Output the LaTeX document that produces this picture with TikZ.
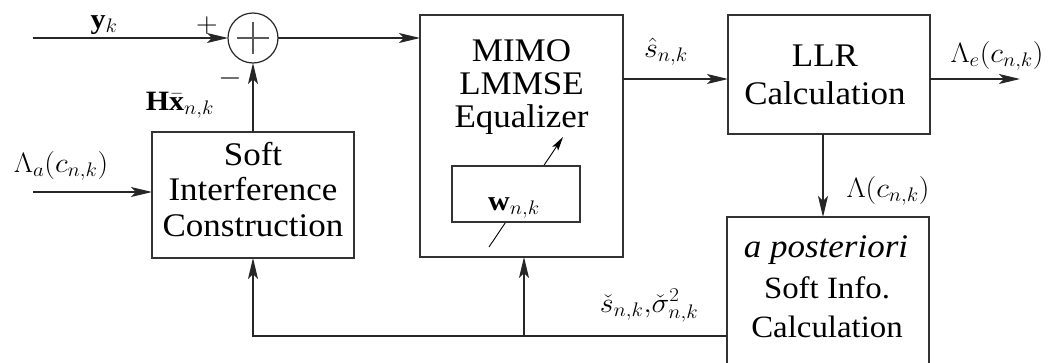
\RequirePackage{fix-cm}
\documentclass[tikz,border=0pt]{standalone}
\usepackage{fontspec}
\setmainfont{Liberation Serif}
\usepackage{graphicx}
\usetikzlibrary{arrows.meta}
\newcommand{\ml}[1]{\scalebox{1.07}[1]{$#1$}}
\newcommand{\bt}[1]{\scalebox{1.06}[1]{#1}}
\begin{document}
\begin{tikzpicture}[x=1pt,y=-1pt,
  box/.style={draw=black!80, line width=1.2pt, rectangle, inner sep=0pt, outer sep=0pt, fill=white},
  arr/.style={draw=black!85, line width=1.2pt, -{Stealth[length=21pt,width=10pt,inset=5pt]}},
  sarr/.style={draw=black, line width=0.9pt, -{Stealth[length=14pt,width=7pt,inset=3pt]}},
  btxt/.style={font=\fontsize{33}{33}\selectfont, anchor=base, inner sep=0pt},
  ptxt/.style={font=\fontsize{31}{31}\selectfont, anchor=base, inner sep=0pt},
  mtxt/.style={font=\fontsize{28}{32}\selectfont, anchor=base, inner sep=0pt}]
\useasboundingbox (0,0) rectangle (1052,362);
\clip (0,0) rectangle (1052,362);

% small adjustable arrow (drawn first, inner box hides its middle)
\coordinate (sa1) at (489,247);
\coordinate (sa2) at (563,137);
\draw[sarr] (sa1) -- (sa2);

% blocks
\node[box, minimum width=203pt, minimum height=242pt, fill=none] (mimo) at (521.5,136) {};
\node[box, minimum width=128pt, minimum height=56pt] (inner) at (516,194) {};
\node[box, minimum width=202pt, minimum height=119pt] (llr) at (829,74.5) {};
\node[box, minimum width=202pt, minimum height=126pt] (sic) at (253,195) {};
\node[box, minimum width=202pt, minimum height=163pt] (post) at (828,298.5) {};
\node[draw=black!85, line width=1.2pt, circle, minimum size=50pt, inner sep=0pt, outer sep=0pt] (sum) at (253,38) {};
\draw[black!65, line width=1.6pt] (sum.center) ++(-16,0) -- ++(32,0);
\draw[black!65, line width=1.6pt] (sum.center) ++(0,-16) -- ++(0,32);

% block texts
\node[btxt] (tm1) at (521.5,61) {\bt{MIMO}};
\node[btxt] (tm2) at (521.5,94) {\bt{LMMSE}};
\node[btxt] (tm3) at (521.5,127) {\bt{Equalizer}};
\node[btxt] (tl1) at (825,66) {\bt{LLR}};
\node[btxt] (tl2) at (825,104) {\bt{Calculation}};
\node[btxt] (ts1) at (253,165) {\bt{Soft}};
\node[btxt] (ts2) at (253,200) {\bt{Interference}};
\node[btxt] (ts3) at (253,236) {\bt{Construction}};
\node[btxt] (tp1) at (826,257) {\bt{\itshape a posteriori}};
\node[ptxt] (tp2) at (827,298) {\bt{Soft Info.}};
\node[ptxt] (tp3) at (827,337) {\bt{Calculation}};

% connectors
\coordinate (yin) at (33,38);
\draw[arr] (yin) -- (sum.west);
\draw[arr] (sum.east) -- (sum.east -| mimo.west);
\draw[arr] (sic.north) -- (sum.south);
\coordinate (ain) at (33,192);
\draw[arr] (ain) -- (ain -| sic.west);
\coordinate (sy) at (0,79);
\draw[arr] (mimo.east |- sy) -- (llr.west |- sy);
\coordinate (lout) at (1020,79);
\draw[arr] (llr.east |- lout) -- (lout);
\coordinate (dx) at (823,0);
\draw[arr] (llr.south -| dx) -- (post.north -| dx);
\coordinate (fby) at (0,336);
\coordinate (brx) at (524,0);
\draw[arr] (post.west |- fby) -| (sic.south);
\draw[arr] (brx |- fby) -- (mimo.south -| brx);

% labels
\node[mtxt] (lyk) at (104,28) {\ml{\mathbf{y}_k}};
\node[mtxt, anchor=center] (lplus) at (207,25) {\ml{+}};
\node[mtxt, anchor=center] (lminus) at (230,78) {\ml{-}};
\node[mtxt] (lhx) at (180,110) {\ml{\mathbf{H}\bar{\mathbf{x}}_{n,k}}};
\node[mtxt] (lla) at (61,172) {\ml{\Lambda_a(c_{n,k})}};
\node[mtxt] (lsh) at (666,57) {\ml{\hat{s}_{n,k}}};
\node[mtxt] (lle) at (997,62) {\ml{\Lambda_e(c_{n,k})}};
\node[mtxt] (llam) at (888,197) {\ml{\Lambda(c_{n,k})}};
\node[mtxt] (lw) at (514,210) {\ml{\mathbf{w}_{n,k}}};
\node[mtxt] (lsc) at (649,312) {\ml{\check{s}_{n,k}{,}\check{\sigma}^2_{n,k}}};
\end{tikzpicture}
\end{document}
